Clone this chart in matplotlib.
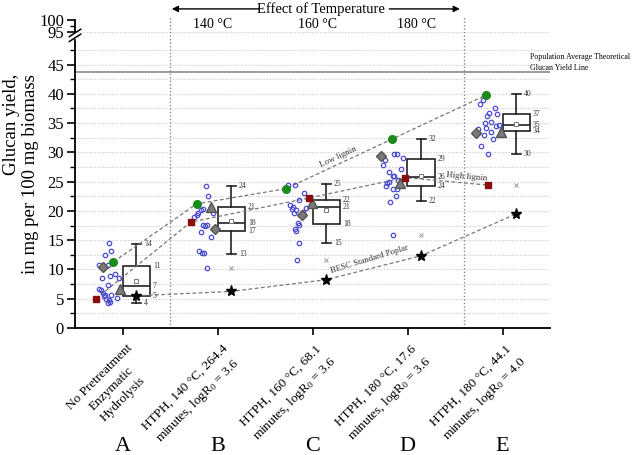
import numpy as np
import matplotlib
matplotlib.use("Agg")
import matplotlib.pyplot as plt
from matplotlib.ticker import FixedLocator, NullFormatter
from matplotlib.transforms import ScaledTranslation

plt.rcParams['font.family'] = ['Liberation Serif', 'DejaVu Serif']
plt.rcParams['mathtext.fontset'] = 'custom'
plt.rcParams['mathtext.rm'] = 'Liberation Serif'
plt.rcParams['mathtext.it'] = 'Liberation Serif:italic'

# categories and tick labels
cats = [1, 2, 3, 4, 5]
letters = ['A', 'B', 'C', 'D', 'E']
xlabels = ['No Pretreatment\nEnzymatic\nHydrolysis',
           'HTPH, 140 °C, 264.4\nminutes, log$\\mathrm{R}_0$ = 3.6',
           'HTPH, 160 °C, 68.1\nminutes, log$\\mathrm{R}_0$ = 3.6',
           'HTPH, 180 °C, 17.6\nminutes, log$\\mathrm{R}_0$ = 3.6',
           'HTPH, 180 °C, 44.1\nminutes, log$\\mathrm{R}_0$ = 4.0']

# box statistics
whislo = [4.2, 12.6, 14.6, 21.7, 29.8]
q1 = [5.4, 16.6, 17.8, 24.2, 33.6]
med = [7.1, 17.9, 20.6, 25.8, 34.6]
q3 = [10.6, 20.6, 21.9, 28.8, 36.6]
whishi = [14.4, 24.3, 24.6, 32.2, 39.9]
means = [8.0, 18.2, 20.1, 25.9, 34.8]
outliers = [[], [10.2], [11.65], [15.9], [24.4]]

# individual samples (jitter offset, glucan yield)
pts_off = [
    [-0.144, -0.12, -0.18, -0.25, -0.15, -0.22, -0.13, -0.08, -0.04, -0.15, -0.25,
     -0.23, -0.18, -0.12, -0.20, -0.06, -0.17, -0.14, -0.15, -0.13, -0.21],
    [-0.126, -0.095, -0.15, -0.17, -0.21, -0.22, -0.05, -0.155, -0.13, -0.11,
     -0.17, -0.07, -0.19, -0.16, -0.14, -0.11, -0.25],
    [-0.26, -0.18, -0.09, -0.14, -0.24, -0.21, -0.22, -0.17, -0.07, -0.19, -0.10,
     -0.15, -0.14, -0.18, -0.17, -0.144, -0.16],
    [-0.137, -0.11, -0.05, -0.235, -0.26, -0.07, -0.19, -0.155, -0.137, -0.095,
     -0.20, -0.22, -0.225, -0.155, -0.11, -0.126, -0.18, -0.155],
    [-0.21, -0.24, -0.084, -0.137, -0.16, -0.06, -0.18, -0.12, -0.066, -0.042,
     -0.26, -0.17, -0.20, -0.126, -0.10, -0.23, -0.155],
]
pts_val = [
    [14.46, 13.2, 12.5, 10.8, 10.8, 8.6, 8.8, 9.3, 8.5, 7.4, 6.65, 6.5, 5.7, 5.7,
     5.4, 5.1, 4.9, 4.7, 4.3, 4.4, 6.0],
    [24.2, 22.6, 20.35, 20.2, 19.6, 19.3, 19.6, 17.6, 17.5, 17.6, 16.4, 15.6,
     13.1, 12.8, 12.85, 10.2, 18.9],
    [24.45, 24.45, 23.0, 21.9, 21.0, 20.75, 20.3, 20.2, 20.5, 19.6, 19.9, 17.9,
     17.6, 16.9, 16.5, 14.6, 11.65],
    [29.8, 29.7, 29.0, 28.7, 27.9, 27.2, 26.7, 26.0, 25.9, 25.3, 25.0, 24.7, 24.2,
     23.7, 23.7, 22.6, 21.6, 15.9],
    [38.96, 38.3, 37.6, 36.7, 36.2, 36.6, 35.0, 35.15, 34.5, 34.7, 34.0, 34.2,
     33.0, 33.4, 32.25, 31.1, 29.8],
]

# selected genotypes
low_off = [-0.095, -0.22, -0.28, -0.16, -0.17]
low_val = [11.3, 21.2, 23.8, 32.3, 39.8]
high_off = [-0.28, -0.28, -0.04, -0.025, -0.15]
high_val = [5.0, 18.1, 22.2, 25.7, 24.4]
dia_off = [-0.21, -0.03, -0.11, -0.28, -0.28]
dia_val = [10.5, 16.9, 19.3, 29.3, 33.3]
tri_off = [-0.03, -0.07, -0.01, -0.08, -0.02]
tri_val = [6.65, 20.6, 21.3, 24.7, 33.4]
besc_val = [5.5, 6.25, 8.25, 12.35, 19.5]
pop_avg = 43.7


def fwd(y):
    y = np.asarray(y, dtype=float)
    return np.where(y <= 50, y, np.where(y <= 95, 50 + (y - 50) * 0.0125,
                                         50.5625 + (y - 95) * 0.41))


def inv(u):
    u = np.asarray(u, dtype=float)
    return np.where(u <= 50, u, np.where(u <= 50.5625, 50 + (u - 50) / 0.0125,
                                         95 + (u - 50.5625) / 0.41))


fig = plt.figure(figsize=(6.38, 4.55), dpi=100)
ax = fig.add_axes([75 / 638, 1 - 328 / 455, 475 / 638, 308 / 455])
ax.set_yscale('function', functions=(fwd, inv))
ax.set_xlim(0.5, 5.5)
ax.set_ylim(0, 100)

x = np.array(cats, dtype=float)
bc = x + 0.145

# grid
for g in list(np.arange(2.5, 48, 2.5)) + [95]:
    ax.axhline(g, color='#c8c8c8', lw=0.8, ls=(0, (1, 1.5)), zorder=0)
ax.axhline(pop_avg, color='#8a8a8a', lw=1.2, zorder=1)
for vx in [1.5, 4.6]:
    ax.axvline(vx, ymax=1.01, color='#8a8a8a', lw=1.0, ls=(0, (1, 1.5)),
               zorder=1, clip_on=False)

# boxes
stats = []
for i in range(5):
    stats.append(dict(whislo=whislo[i], q1=q1[i], med=med[i], q3=q3[i],
                      whishi=whishi[i], mean=means[i], fliers=outliers[i]))
ax.bxp(stats, positions=bc, widths=0.29, capwidths=0.1, showmeans=True,
       patch_artist=True,
       boxprops=dict(facecolor='white', edgecolor='#222222', lw=1.2),
       medianprops=dict(color='#222222', lw=1.2),
       whiskerprops=dict(color='#222222', lw=1.2),
       capprops=dict(color='#222222', lw=1.2),
       meanprops=dict(marker='s', markersize=3.2, markerfacecolor='white',
                      markeredgecolor='#777777', markeredgewidth=0.7),
       flierprops=dict(marker='x', markersize=3.5, markeredgecolor='#999999',
                       markeredgewidth=0.7),
       manage_ticks=False, zorder=2)

for i in range(5):
    for v in [q3[i], med[i], q1[i]]:
        ax.annotate(f"{v:.0f}", (x[i] + 0.29, v), xytext=(2, 0),
                    textcoords='offset points', fontsize=5.5, va='center',
                    color='#333333')
    for v in [whishi[i], whislo[i]]:
        ax.annotate(f"{v:.0f}", (bc[i] + 0.05, v), xytext=(2, 0),
                    textcoords='offset points', fontsize=5.5, va='center',
                    color='#333333')

# samples
for i in range(5):
    ax.plot(x[i] + np.array(pts_off[i]), pts_val[i], 'o', ms=3.2,
            mfc='none', mec='#4d4dd0', mew=0.9, zorder=3)

# trend lines
dash = dict(color='#777777', lw=0.9, ls=(0, (3, 2)), zorder=2)
ax.plot(x + np.array(low_off), low_val, **dash)
ax.plot(x + np.array(high_off), high_val, **dash)
ax.plot(bc, besc_val, **dash)

ax.plot(x + np.array(dia_off), dia_val, 'D', ms=5.2, color='#7a7a7a',
        mec='#555555', ls='none', zorder=4)
ax.plot(x + np.array(tri_off), tri_val, '^', ms=6.5, color='#7a7a7a',
        mec='#555555', ls='none', zorder=4)
ax.plot(x + np.array(low_off), low_val, 'o', ms=5.5, color='#1a8a1a',
        ls='none', zorder=5)
ax.plot(x + np.array(high_off), high_val, 's', ms=5, color='#8b0c0c',
        ls='none', zorder=5)
ax.plot(bc, besc_val, '*', ms=8, color='black', ls='none', zorder=5)

ax.text(3.27, 29.2, 'Low lignin', fontsize=6.5, rotation=25, ha='center',
        va='center', color='#333333')
ax.text(4.62, 25.9, 'High lignin', fontsize=6.5, rotation=-5, ha='center',
        va='center', color='#333333')
ax.text(3.6, 11.8, 'BESC Standard Poplar', fontsize=6.3, rotation=17,
        ha='center', va='center', color='#333333')

ax.text(5.285, 0.862, 'Population Average Theoretical\nGlucan Yield Line',
        transform=ax.get_xaxis_transform(), fontsize=5.7, va='center',
        ha='left', linespacing=1.5)

# temperature annotations
tr = ax.get_xaxis_transform()
ax.text(3.09, 1.036, 'Effect of Temperature', transform=tr, fontsize=10.5,
        ha='center', va='center', clip_on=False)
ax.annotate('', xy=(1.49, 1.036), xytext=(2.47, 1.036), xycoords=tr,
            textcoords=tr, arrowprops=dict(arrowstyle='-|>', color='black',
                                           lw=1.0, mutation_scale=9))
ax.annotate('', xy=(4.58, 1.036), xytext=(3.78, 1.036), xycoords=tr,
            textcoords=tr, arrowprops=dict(arrowstyle='-|>', color='black',
                                           lw=1.0, mutation_scale=9))
for tx, tl in zip([1.95, 3.05, 4.09], ['140 °C', '160 °C', '180 °C']):
    ax.text(tx, 0.985, tl, transform=tr, fontsize=10, ha='center',
            va='center')

# axes styling
for s in ['top', 'right']:
    ax.spines[s].set_visible(False)
ax.spines['left'].set_linewidth(1.3)
ax.spines['bottom'].set_linewidth(1.3)

ax.yaxis.set_major_locator(FixedLocator(list(range(0, 50, 5)) + [95, 100]))
ax.yaxis.set_minor_locator(FixedLocator(list(np.arange(2.5, 48, 5)) + [97.5]))
ax.yaxis.set_minor_formatter(NullFormatter())
ax.set_yticklabels([str(v) for v in list(range(0, 50, 5)) + [95, 100]])
ax.tick_params(axis='y', which='major', length=6, width=1.2, labelsize=12, pad=2)
ax.tick_params(axis='y', which='minor', length=3.5, width=1.0)
ax.set_xticks(cats)
ax.set_xticklabels(xlabels, rotation=45, ha='right', rotation_mode='anchor',
                   fontsize=9.5, multialignment='center', linespacing=1.45)
ax.tick_params(axis='x', length=5, width=1.2, pad=5)
shift = ScaledTranslation(4 / 100, 0, fig.dpi_scale_trans)
for lab in ax.get_xticklabels():
    lab.set_transform(lab.get_transform() + shift)

for i in range(5):
    ax.text(x[i], -0.385, letters[i], transform=tr, fontsize=16,
            ha='center', va='center')

ax.set_ylabel('Glucan yield,\nin mg per 100 mg biomass', fontsize=13.5,
              linespacing=1.15, multialignment='right')
ax.yaxis.set_label_coords(-0.076, 0.5)

# axis break
ta = ax.transAxes
ax.plot([0, 0], [0.944, 0.956], transform=ta, color='white', lw=2.5,
        clip_on=False, zorder=6)
for yb in [0.942, 0.958]:
    ax.plot([-0.012, 0.012], [yb - 0.012, yb + 0.012], transform=ta,
            color='black', lw=1.1, clip_on=False, zorder=7)

fig.savefig('out.png', dpi=100)
